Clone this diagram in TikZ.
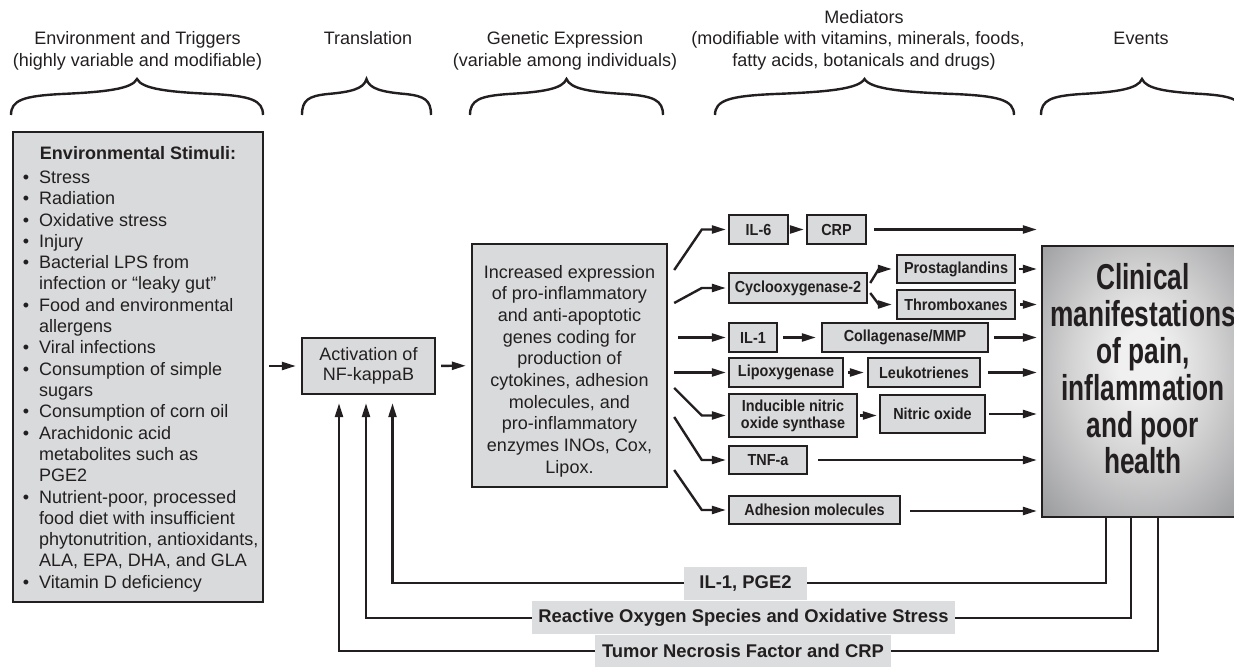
\documentclass[tikz,border=0pt]{standalone}
\usepackage{fontspec}
\setmainfont{Liberation Sans}
\newfontfamily\medfont{Liberation Sans Bold}[FakeStretch=0.9]
\newfontfamily\bigfont{Liberation Sans Bold}[FakeStretch=0.73]
\usetikzlibrary{arrows.meta,calc}
\definecolor{ink}{HTML}{231F20}
\definecolor{boxgray}{HTML}{D9DADB}
\definecolor{labelgray}{HTML}{DCDDDE}
\definecolor{clinhi}{HTML}{F0F0F0}
\definecolor{clinmid}{HTML}{D2D2D3}
\definecolor{clinlo}{HTML}{8E8F91}
\pgfdeclareradialshading{clinshade}{\pgfpoint{0bp}{4bp}}{%
  color(0bp)=(clinhi); color(6bp)=(clinhi); color(18bp)=(clinmid);
  color(40bp)=(clinlo); color(50bp)=(clinlo)}
\begin{document}
\begin{tikzpicture}[x=1pt,y=-1pt,
  line join=miter,
  box/.style={draw=ink,fill=boxgray,line width=2.4pt,inner sep=0pt,text=ink},
  medbox/.style={box,font=\medfont\fontsize{16}{17}\selectfont,align=center},
  bodytext/.style={font=\fontsize{18}{21.5}\selectfont,text=ink,inner sep=0pt},
  hdr/.style={font=\fontsize{18}{21.5}\selectfont,text=ink,anchor=base,inner sep=0pt},
  arr/.style={draw=ink,line width=2.4pt,-{Triangle[length=14pt,width=8pt]}},
  bracepath/.style={draw=ink,line width=2.4pt},
  fblabel/.style={fill=labelgray,inner sep=0pt,text=ink,
    font=\bfseries\fontsize{18.4}{20}\selectfont}]
\useasboundingbox (0,0) rectangle (1234,668);
\clip (0,0) rectangle (1234,668);

% ---- column headings ----
\node[hdr] (h1a) at (137.5,45) {Environment and Triggers};
\node[hdr] (h1b) at (137.5,66.5) {(highly variable and modifiable)};
\node[hdr] (h2) at (368,45) {Translation};
\node[hdr] (h3a) at (565,45) {Genetic Expression};
\node[hdr] (h3b) at (565,66.5) {(variable among individuals)};
\node[hdr] (h4a) at (864,23.5) {Mediators};
\node[hdr] (h4b) at (858,45) {(modifiable with vitamins, minerals, foods,};
\node[hdr] (h4c) at (864,66.5) {fatty acids, botanicals and drugs)};
\node[hdr] (h5) at (1141,45) {Events};

% ---- curly braces under the headings ----
\foreach \L/\R in {11/263, 302/431, 470/663, 715/1014, 1041/1243}{
  \pgfmathsetmacro\h{(\R-\L)/2}
  \draw[bracepath] (\L,115) .. controls (\L,100) and ({\L+0.1*\h},96) .. ({\L+0.4*\h},94)
    .. controls ({\L+0.75*\h},92) and ({\L+0.96*\h},89) .. ({\L+\h},79)
    .. controls ({\R-0.96*\h},89) and ({\R-0.75*\h},92) .. ({\R-0.4*\h},94)
    .. controls ({\R-0.1*\h},96) and (\R,100) .. (\R,115);
}

% ---- environmental stimuli ----
\node[box,minimum width=250pt,minimum height=470pt] (env) at (138,367) {};
\node[bodytext,font=\bfseries\fontsize{18}{21.5}\selectfont,anchor=base] (envtitle)
  at (138,159.5) {Environmental Stimuli:};
\foreach \b/\t [count=\i from 0] in {
  1/Stress, 1/Radiation, 1/Oxidative stress, 1/Injury, 1/Bacterial LPS from,
  0/infection or “leaky gut”, 1/Food and environmental, 0/allergens,
  1/Viral infections, 1/Consumption of simple, 0/sugars,
  1/Consumption of corn oil, 1/Arachidonic acid, 0/metabolites such as, 0/PGE2,
  1/{Nutrient-poor, processed}, 0/food diet with insufficient,
  0/{phytonutrition, antioxidants,}, 0/{ALA, EPA, DHA, and GLA},
  1/Vitamin D deficiency}{
  \node[bodytext,anchor=base west] (s\i) at (39,{183.5+21.3*\i}) {\t};
  \ifnum\b=1
    \node[bodytext,anchor=base] (d\i) at (26,{183.5+21.3*\i}) {•};
  \fi
}

% ---- translation and gene expression ----
\node[box,minimum width=133pt,minimum height=56pt,align=center,
  font=\fontsize{18}{20}\selectfont] (act) at (368.5,366) {Activation of\\NF-kappaB};
\node[box,minimum width=195pt,minimum height=243pt] (gen) at (569.5,365.5) {};
\node[bodytext,align=center,font=\fontsize{18}{21.7}\selectfont] (gentext) at (569.5,371)
  {Increased expression\\of pro-inflammatory\\and anti-apoptotic\\genes coding for\\
   production of\\cytokines, adhesion\\molecules, and\\pro-inflammatory\\
   enzymes INOs, Cox,\\Lipox.};

\draw[arr,shorten <=5pt,shorten >=5pt] (env.east |- act) -- (act.west);
\draw[arr,shorten <=5pt,shorten >=5pt] (act) -- (gen);

% ---- mediators ----
\node[medbox,minimum width=59pt,minimum height=29pt] (il6) at (758.5,229.5) {IL-6};
\node[medbox,minimum width=59pt,minimum height=29pt] (crp) at (836.5,229.5) {CRP};
\node[medbox,minimum width=138pt,minimum height=30pt] (cox) at (798,288) {Cyclooxygenase-2};
\node[medbox,minimum width=118pt,minimum height=28pt] (prost) at (956,269) {Prostaglandins};
\node[medbox,minimum width=118pt,minimum height=29pt] (thromb) at (956,304.5) {Thromboxanes};
\node[medbox,minimum width=48pt,minimum height=29pt] (il1) at (753,337.5) {IL-1};
\node[medbox,minimum width=166pt,minimum height=29pt] (coll) at (905,337.5) {Collagenase/MMP};
\node[medbox,minimum width=114pt,minimum height=29pt] (lipox) at (786,372.5) {Lipoxygenase};
\node[medbox,minimum width=112pt,minimum height=29pt] (leuko) at (924,372.5) {Leukotrienes};
\node[medbox,minimum width=128pt,minimum height=43pt] (inos) at (793,415.5)
  {Inducible nitric\\oxide synthase};
\node[medbox,minimum width=105pt,minimum height=38pt] (no) at (932.5,414) {Nitric oxide};
\node[medbox,minimum width=78pt,minimum height=28pt] (tnf) at (768,460) {TNF-a};
\node[medbox,minimum width=171pt,minimum height=28pt] (adh) at (814.5,510) {Adhesion molecules};

% ---- clinical outcome ----
\node[draw=ink,line width=2.4pt,shading=clinshade,minimum width=202pt,minimum height=271pt,
  inner sep=0pt] (clin) at (1143,381.5) {};
\node[align=center,text=ink,inner sep=0pt,font=\bigfont\fontsize{36}{36.8}\selectfont]
  (clintext) at (1143,369)
  {Clinical\\manifestations\\of pain,\\inflammation\\and poor\\health};

% ---- fan-out from gene expression ----
\path (gen.east) ++(6,0) coordinate (gx);
\path (il6.west) ++(-26,0) coordinate (bx);
\draw[arr,shorten >=2pt] (gx |- 0,270) -- (bx |- il6) -- (il6.west);
\draw[arr,shorten >=2pt] (gx |- 0,303) -- (bx |- cox) -- (cox.west);
\draw[arr,shorten >=2pt] ($(gx |- il1)+(4,0)$) -- (il1.west);
\draw[arr,shorten >=2pt] (gx |- lipox) -- (lipox.west);
\draw[arr,shorten >=2pt] (gx |- 0,388) -- (bx |- inos) -- (inos.west);
\draw[arr,shorten >=2pt] (gx |- 0,417) -- (bx |- tnf) -- (tnf.west);
\draw[arr,shorten >=2pt] (gx |- 0,470) -- (bx |- adh) -- (adh.west);

% ---- links between mediators ----
\draw[arr,shorten <=5pt,shorten >=2pt] (il6) -- (crp);
\draw[arr,shorten >=4pt] ($(cox.east)+(2,-5)$) -- ($(prost.west)+(-17,0)$) -- (prost.west);
\draw[arr,shorten >=4pt] ($(cox.east)+(2,5)$) -- ($(thromb.west)+(-17,0)$) -- (thromb.west);
\draw[arr,shorten <=5pt,shorten >=5pt] (il1) -- (coll);
\draw[arr,shorten <=4pt,shorten >=3pt] (lipox) -- (leuko);
\draw[arr,shorten <=2pt,shorten >=2pt] (inos.east) -- (inos.east -| no.west);

% ---- mediators into the clinical outcome ----
\draw[arr,shorten <=7pt,shorten >=4pt] (crp.east) -- (crp.east -| clin.west);
\draw[arr,shorten <=3pt,shorten >=4pt] (prost.east) -- (prost.east -| clin.west);
\draw[arr,shorten <=4pt,shorten >=4pt] (thromb.east) -- (thromb.east -| clin.west);
\draw[arr,shorten <=5pt,shorten >=4pt] (coll.east) -- (coll.east -| clin.west);
\draw[arr,shorten <=7pt,shorten >=4pt] (leuko.east) -- (leuko.east -| clin.west);
\draw[arr,shorten <=3pt,shorten >=4pt] (no.east) -- (no.east -| clin.west);
\draw[arr,shorten <=10pt,shorten >=4pt] (tnf.east) -- (tnf.east -| clin.west);
\draw[arr,shorten <=9pt,shorten >=4pt] ($(adh.east)+(0,1)$) -- ($(adh.east -| clin.west)+(0,1)$);

% ---- feedback loops to NF-kappaB ----
\draw[arr,shorten >=8pt] ($(clin.south west)+(65,0)$) -- ++(0,65) -| ($(act.south)+(24,0)$);
\draw[arr,shorten >=8pt] ($(clin.south west)+(90,0)$) -- ++(0,100) -| ($(act.south)+(-2.5,0)$);
\draw[arr,shorten >=8pt] ($(clin.south west)+(117,0)$) -- ++(0,133) -| ($(act.south)+(-29.5,0)$);

\node[fblabel,minimum width=123pt,minimum height=33pt] (fb1) at (745.5,583.5) {IL-1, PGE2};
\node[fblabel,minimum width=423pt,minimum height=33pt] (fb2) at (743.5,617.5)
  {Reactive Oxygen Species and Oxidative Stress};
\node[fblabel,minimum width=296pt,minimum height=32pt] (fb3) at (743,651)
  {Tumor Necrosis Factor and CRP};
\end{tikzpicture}
\end{document}
